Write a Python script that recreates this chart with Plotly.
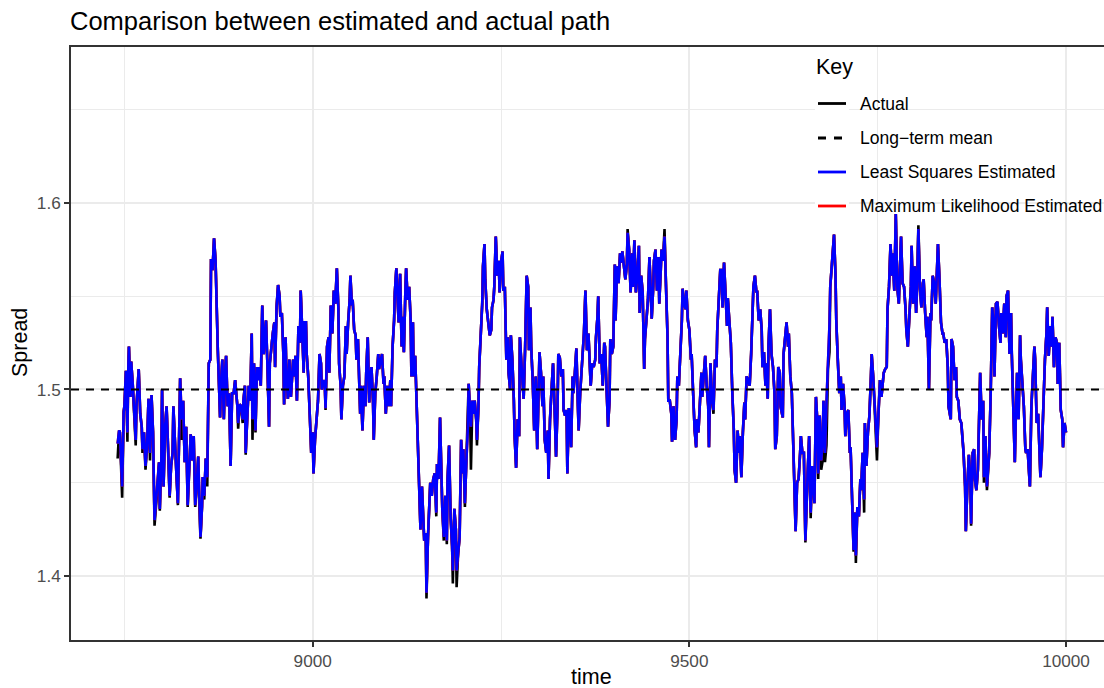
import plotly.graph_objects as go

# ---- data -----------------------------------------------------------------
time = [
    8741, 8743, 8744, 8747, 8749, 8750, 8752, 8754, 8755, 8756,
    8758, 8759, 8761, 8763, 8765, 8766, 8769, 8771, 8773, 8774,
    8776, 8778, 8780, 8782, 8784, 8786, 8788, 8790, 8792, 8794,
    8796, 8797, 8799, 8800, 8802, 8804, 8806, 8808, 8810, 8812,
    8814, 8815, 8817, 8819, 8821, 8823, 8824, 8826, 8828, 8830,
    8832, 8834, 8836, 8838, 8840, 8842, 8844, 8846, 8848, 8849,
    8851, 8853, 8854, 8856, 8858, 8860, 8862, 8864, 8865, 8867,
    8869, 8871, 8872, 8874, 8877, 8878, 8880, 8882, 8884, 8885,
    8887, 8889,
    8891, 8893, 8895, 8897, 8900, 8901, 8903, 8905, 8907, 8908,
    8910, 8911, 8913, 8915, 8917, 8919, 8920, 8922, 8924, 8926,
    8927, 8929, 8931, 8933, 8935, 8937, 8938, 8940, 8942, 8943,
    8945, 8947, 8949, 8950, 8952, 8954, 8956, 8957, 8959, 8961,
    8962, 8964, 8965, 8967, 8969, 8971, 8973, 8974, 8976, 8977,
    8979, 8981, 8983, 8984, 8986, 8988, 8989, 8991, 8992, 8994,
    8996, 8998, 9000, 9001, 9003, 9005, 9007, 9009, 9011, 9012,
    9014, 9016, 9017, 9019, 9021, 9022, 9024, 9026, 9028, 9030,
    9032, 9034, 9035, 9037, 9038, 9040, 9042, 9044, 9045, 9047,
    9049,
    9050, 9052, 9053, 9055, 9057, 9058, 9060, 9062, 9063, 9064,
    9066, 9068, 9070, 9071, 9073, 9075, 9076, 9078, 9080, 9081,
    9083, 9085, 9087, 9088, 9090, 9092, 9094, 9095, 9097, 9099,
    9101, 9103, 9104, 9106, 9108, 9109, 9111, 9113, 9114, 9116,
    9118, 9119, 9121, 9123, 9124, 9126, 9128, 9130, 9131, 9133,
    9134, 9136, 9138, 9140, 9141, 9143, 9145, 9146, 9148, 9150,
    9151, 9153, 9155, 9156, 9158, 9160, 9162, 9164, 9165, 9167,
    9169, 9171, 9172, 9174, 9176, 9178, 9179, 9181, 9183, 9185,
    9186, 9188, 9190, 9191, 9193, 9195, 9197, 9199, 9200, 9202,
    9204, 9206, 9207,
    9209, 9210, 9212, 9214, 9215, 9217, 9218, 9220, 9221, 9223,
    9225, 9226, 9228, 9229, 9231, 9233, 9235, 9237, 9238, 9240,
    9241, 9243, 9245, 9247, 9248, 9250, 9252, 9253, 9255, 9257,
    9259, 9260, 9262, 9263, 9265, 9267, 9268, 9270, 9272, 9274,
    9275, 9277, 9279, 9280, 9282, 9284, 9286, 9287, 9289, 9290,
    9292, 9294, 9296, 9298, 9299, 9301, 9303, 9305, 9306, 9308,
    9310, 9312, 9313, 9315, 9317, 9319, 9321, 9323, 9325, 9326,
    9328, 9330, 9332, 9333, 9335, 9337, 9338, 9340, 9341, 9343,
    9345, 9346, 9348, 9350, 9352, 9353, 9355, 9357, 9359, 9360,
    9362, 9364, 9366, 9367,
    9369, 9371, 9373, 9375, 9376, 9378, 9379, 9381, 9383, 9385,
    9387, 9388, 9390, 9392, 9394, 9395, 9397, 9399, 9401, 9402,
    9404, 9406, 9408, 9410, 9411, 9413, 9415, 9417, 9418, 9420,
    9422, 9424, 9425, 9427, 9429, 9431, 9433, 9434, 9436, 9438,
    9440, 9441, 9443, 9445, 9447, 9448, 9450, 9452, 9453, 9455,
    9457, 9459, 9460, 9462, 9463, 9465, 9467, 9469, 9471, 9472,
    9474, 9476, 9477, 9479, 9481, 9483, 9484, 9486, 9488, 9490,
    9491, 9493, 9495, 9496, 9498, 9500, 9502, 9503, 9505, 9507,
    9509, 9510, 9512, 9514, 9516, 9517, 9519, 9521, 9523, 9525,
    9526,
    9528, 9530, 9532, 9534, 9536, 9537, 9539, 9541, 9543, 9544,
    9546, 9548, 9550, 9551, 9553, 9555, 9557, 9559, 9560, 9562,
    9564, 9566, 9567, 9569, 9571, 9573, 9574, 9576, 9578, 9580,
    9582, 9583, 9585, 9587, 9589, 9590, 9592, 9594, 9596, 9597,
    9599, 9601, 9602, 9604, 9605, 9607, 9609, 9611, 9613, 9614,
    9616, 9618, 9620, 9621, 9624, 9625, 9627, 9629, 9631, 9632,
    9634, 9636, 9638, 9639, 9641, 9643, 9645, 9647, 9648, 9650,
    9652, 9654, 9655, 9657, 9659, 9661, 9663, 9664, 9666, 9668,
    9670, 9671, 9673, 9675, 9677, 9678, 9680, 9682, 9684, 9686,
    9687, 9689, 9692, 9694, 9695, 9697, 9699, 9701, 9702, 9704,
    9706, 9707, 9709, 9711, 9713, 9714, 9716, 9718, 9720, 9721,
    9723, 9725, 9727, 9728, 9730, 9732, 9733, 9735, 9737, 9739,
    9741, 9742, 9744, 9746, 9748, 9749, 9751, 9753, 9755, 9756,
    9758, 9760, 9762, 9763, 9765, 9767, 9769, 9770, 9772, 9774,
    9776, 9778, 9779, 9781, 9783, 9785, 9787, 9788, 9790, 9792,
    9794, 9795, 9797, 9799, 9801, 9802, 9804, 9806, 9808, 9810,
    9811, 9813, 9815, 9816, 9818, 9820, 9821, 9823, 9825, 9827,
    9829, 9830, 9832, 9834, 9836, 9837, 9839, 9841, 9843, 9844,
    9847, 9848, 9850, 9852, 9854, 9855, 9857, 9859, 9861, 9863,
    9864, 9866, 9867, 9869, 9871, 9873, 9874, 9876, 9878, 9879,
    9881, 9883, 9885, 9886, 9888, 9890, 9891, 9893, 9895, 9897,
    9898, 9900, 9902, 9904, 9905, 9907, 9909, 9911, 9913, 9914,
    9916, 9918, 9920, 9921, 9923, 9925, 9927, 9928, 9930, 9932,
    9933, 9935, 9937, 9939, 9940, 9942, 9944, 9946, 9947, 9949,
    9951, 9952, 9954, 9956, 9958, 9959, 9961, 9963, 9965, 9966,
    9968, 9970, 9972, 9974, 9975, 9977, 9979, 9981, 9982, 9984,
    9986, 9988, 9989, 9991, 9993, 9995, 9996, 9998, 10000,
]

actual = [
    1.463, 1.478, 1.477, 1.442, 1.488, 1.491, 1.510, 1.472, 1.509, 1.523,
    1.496, 1.515, 1.503, 1.486, 1.470, 1.491, 1.511, 1.487, 1.480, 1.466,
    1.477, 1.457, 1.469, 1.495, 1.462, 1.497, 1.477, 1.427, 1.441, 1.448,
    1.461, 1.435, 1.462, 1.500, 1.448, 1.480, 1.491, 1.469, 1.442, 1.459,
    1.466, 1.491, 1.469, 1.455, 1.438, 1.480, 1.506, 1.473, 1.494, 1.461,
    1.480, 1.437, 1.461, 1.476, 1.462, 1.475, 1.437, 1.448, 1.464, 1.443,
    1.420, 1.437, 1.453, 1.441, 1.463, 1.448, 1.514, 1.516, 1.570, 1.564,
    1.581, 1.569, 1.548, 1.521, 1.485, 1.502, 1.516, 1.484, 1.512, 1.518,
    1.491, 1.498,
    1.459, 1.498, 1.498, 1.505, 1.491, 1.479, 1.492, 1.491, 1.482, 1.494,
    1.502, 1.465, 1.484, 1.502, 1.494, 1.530, 1.473, 1.514, 1.477, 1.512,
    1.505, 1.512, 1.502, 1.545, 1.519, 1.537, 1.537, 1.511, 1.480, 1.514,
    1.523, 1.530, 1.536, 1.512, 1.544, 1.556, 1.550, 1.539, 1.541, 1.519,
    1.492, 1.528, 1.509, 1.495, 1.516, 1.496, 1.509, 1.516, 1.507, 1.518,
    1.494, 1.534, 1.525, 1.553, 1.532, 1.509, 1.536, 1.536, 1.519, 1.507,
    1.487, 1.466, 1.477, 1.455, 1.473, 1.484, 1.494, 1.519, 1.514, 1.500,
    1.505, 1.503, 1.489, 1.523, 1.528, 1.509, 1.545, 1.530, 1.553, 1.546,
    1.565, 1.544, 1.514, 1.502, 1.484, 1.502, 1.507, 1.534, 1.519, 1.536,
    1.548,
    1.561, 1.545, 1.548, 1.532, 1.529, 1.516, 1.527, 1.505, 1.487, 1.502,
    1.478, 1.502, 1.491, 1.509, 1.528, 1.493, 1.503, 1.512, 1.494, 1.473,
    1.498, 1.507, 1.519, 1.511, 1.516, 1.519, 1.503, 1.507, 1.487, 1.502,
    1.491, 1.505, 1.491, 1.523, 1.537, 1.552, 1.565, 1.539, 1.536, 1.562,
    1.523, 1.539, 1.520, 1.553, 1.565, 1.548, 1.555, 1.537, 1.507, 1.536,
    1.507, 1.518, 1.494, 1.466, 1.448, 1.425, 1.448, 1.437, 1.419, 1.423,
    1.388, 1.421, 1.437, 1.450, 1.443, 1.452, 1.455, 1.432, 1.460, 1.452,
    1.485, 1.443, 1.436, 1.419, 1.443, 1.417, 1.452, 1.470, 1.432, 1.416,
    1.396, 1.436, 1.425, 1.394, 1.412, 1.421, 1.473, 1.455, 1.468, 1.437,
    1.462, 1.480, 1.503,
    1.484, 1.457, 1.494, 1.487, 1.494, 1.484, 1.470, 1.491, 1.512, 1.530,
    1.546, 1.566, 1.578, 1.559, 1.543, 1.536, 1.529, 1.532, 1.544, 1.548,
    1.555, 1.582, 1.561, 1.569, 1.552, 1.568, 1.574, 1.553, 1.555, 1.516,
    1.528, 1.509, 1.500, 1.529, 1.516, 1.494, 1.475, 1.458, 1.484, 1.475,
    1.528, 1.514, 1.498, 1.495, 1.523, 1.561, 1.555, 1.521, 1.544, 1.523,
    1.505, 1.478, 1.507, 1.468, 1.484, 1.520, 1.509, 1.491, 1.507, 1.473,
    1.466, 1.478, 1.452, 1.484, 1.500, 1.514, 1.491, 1.464, 1.491, 1.519,
    1.517, 1.507, 1.511, 1.489, 1.486, 1.489, 1.455, 1.490, 1.487, 1.469,
    1.507, 1.498, 1.509, 1.522, 1.491, 1.478, 1.498, 1.509, 1.523, 1.530,
    1.553, 1.521, 1.530, 1.523,
    1.502, 1.514, 1.512, 1.516, 1.528, 1.539, 1.550, 1.514, 1.519, 1.502,
    1.525, 1.523, 1.498, 1.480, 1.494, 1.527, 1.519, 1.523, 1.567, 1.537,
    1.566, 1.557, 1.573, 1.568, 1.574, 1.566, 1.559, 1.567, 1.586, 1.575,
    1.552, 1.573, 1.555, 1.580, 1.552, 1.562, 1.577, 1.541, 1.561, 1.552,
    1.511, 1.527, 1.537, 1.548, 1.571, 1.555, 1.538, 1.555, 1.569, 1.575,
    1.553, 1.571, 1.546, 1.564, 1.575, 1.569, 1.586, 1.555, 1.528, 1.494,
    1.494, 1.487, 1.472, 1.491, 1.473, 1.484, 1.507, 1.502, 1.519, 1.537,
    1.554, 1.546, 1.543, 1.553, 1.537, 1.532, 1.516, 1.519, 1.498, 1.478,
    1.469, 1.484, 1.477, 1.491, 1.509, 1.496, 1.505, 1.518, 1.502, 1.491,
    1.469,
    1.514, 1.494, 1.487, 1.516, 1.512, 1.532, 1.546, 1.564, 1.564, 1.544,
    1.568, 1.546, 1.534, 1.549, 1.536, 1.525, 1.498, 1.478, 1.457, 1.450,
    1.478, 1.466, 1.475, 1.453, 1.477, 1.493, 1.484, 1.507, 1.505, 1.502,
    1.519, 1.537, 1.555, 1.561, 1.552, 1.553, 1.537, 1.543, 1.532, 1.512,
    1.520, 1.502, 1.514, 1.495, 1.523, 1.543, 1.519, 1.512, 1.498, 1.468,
    1.475, 1.512, 1.509, 1.491, 1.485, 1.519, 1.527, 1.536, 1.523, 1.530,
    1.507, 1.498, 1.469, 1.450, 1.424, 1.450, 1.452, 1.466, 1.475, 1.466,
    1.466, 1.418, 1.434, 1.455, 1.475, 1.431, 1.459, 1.450, 1.439, 1.496,
    1.482, 1.452, 1.486, 1.457, 1.462, 1.494, 1.461, 1.470, 1.511, 1.520,
    1.555, 1.566, 1.583, 1.561, 1.537, 1.516, 1.498, 1.507, 1.489, 1.503,
    1.491, 1.475, 1.487, 1.489, 1.466, 1.469, 1.441, 1.413, 1.434, 1.407,
    1.437, 1.432, 1.452, 1.446, 1.466, 1.434, 1.482, 1.459, 1.477, 1.486,
    1.507, 1.519, 1.507, 1.487, 1.477, 1.462, 1.487, 1.505, 1.496, 1.502,
    1.509, 1.511, 1.512, 1.543, 1.555, 1.578, 1.561, 1.573, 1.553, 1.594,
    1.555, 1.546, 1.562, 1.582, 1.557, 1.555, 1.543, 1.532, 1.523, 1.543,
    1.555, 1.577, 1.546, 1.566, 1.541, 1.552, 1.588, 1.555, 1.544, 1.557,
    1.559, 1.541, 1.528, 1.539, 1.500, 1.541, 1.537, 1.561, 1.557, 1.546,
    1.566, 1.578, 1.559, 1.536, 1.530, 1.530, 1.525, 1.527, 1.512, 1.491,
    1.484, 1.527, 1.523, 1.505, 1.512, 1.496, 1.494, 1.484, 1.482, 1.473,
    1.466, 1.448, 1.424, 1.448, 1.465, 1.452, 1.427, 1.466, 1.468, 1.452,
    1.446, 1.457, 1.484, 1.509, 1.484, 1.494, 1.450, 1.475, 1.446, 1.457,
    1.466, 1.498, 1.544, 1.534, 1.507, 1.546, 1.547, 1.534, 1.525, 1.541,
    1.530, 1.546, 1.528, 1.550, 1.553, 1.519, 1.541, 1.519, 1.484, 1.461,
    1.480, 1.509, 1.484, 1.529, 1.516, 1.502, 1.491, 1.468, 1.466, 1.468,
    1.455, 1.448, 1.491, 1.511, 1.523, 1.516, 1.482, 1.487, 1.466, 1.453,
    1.468, 1.494, 1.516, 1.530, 1.544, 1.518, 1.534, 1.523, 1.539, 1.512,
    1.528, 1.525, 1.503, 1.525, 1.489, 1.484, 1.469, 1.482, 1.477,
]

least_squares = [
    1.471, 1.478, 1.477, 1.448, 1.488, 1.491, 1.510, 1.477, 1.509, 1.523,
    1.496, 1.515, 1.503, 1.486, 1.473, 1.491, 1.511, 1.487, 1.480, 1.468,
    1.477, 1.459, 1.469, 1.495, 1.466, 1.497, 1.477, 1.430, 1.441, 1.448,
    1.461, 1.436, 1.462, 1.500, 1.448, 1.480, 1.491, 1.469, 1.443, 1.459,
    1.466, 1.491, 1.469, 1.455, 1.439, 1.480, 1.506, 1.484, 1.494, 1.461,
    1.480, 1.438, 1.461, 1.476, 1.462, 1.475, 1.438, 1.448, 1.464, 1.443,
    1.421, 1.437, 1.453, 1.443, 1.463, 1.453, 1.514, 1.516, 1.570, 1.564,
    1.581, 1.569, 1.548, 1.521, 1.485, 1.502, 1.516, 1.484, 1.512, 1.518,
    1.491, 1.498,
    1.459, 1.498, 1.498, 1.505, 1.491, 1.482, 1.492, 1.491, 1.484, 1.494,
    1.502, 1.466, 1.484, 1.502, 1.494, 1.530, 1.484, 1.514, 1.478, 1.512,
    1.505, 1.512, 1.502, 1.545, 1.519, 1.537, 1.537, 1.511, 1.480, 1.514,
    1.523, 1.530, 1.536, 1.512, 1.544, 1.556, 1.550, 1.539, 1.541, 1.519,
    1.492, 1.528, 1.509, 1.495, 1.516, 1.496, 1.509, 1.516, 1.507, 1.518,
    1.494, 1.534, 1.525, 1.553, 1.532, 1.509, 1.536, 1.536, 1.519, 1.507,
    1.487, 1.466, 1.477, 1.455, 1.473, 1.484, 1.494, 1.519, 1.514, 1.500,
    1.505, 1.503, 1.490, 1.523, 1.528, 1.509, 1.545, 1.530, 1.553, 1.546,
    1.565, 1.544, 1.514, 1.502, 1.484, 1.502, 1.507, 1.534, 1.519, 1.536,
    1.548,
    1.561, 1.545, 1.548, 1.532, 1.529, 1.516, 1.527, 1.505, 1.487, 1.502,
    1.478, 1.502, 1.491, 1.509, 1.528, 1.493, 1.503, 1.512, 1.494, 1.473,
    1.498, 1.507, 1.519, 1.511, 1.516, 1.519, 1.503, 1.507, 1.487, 1.502,
    1.491, 1.505, 1.491, 1.523, 1.537, 1.552, 1.565, 1.539, 1.536, 1.562,
    1.523, 1.539, 1.520, 1.553, 1.565, 1.548, 1.555, 1.537, 1.507, 1.536,
    1.507, 1.518, 1.494, 1.466, 1.448, 1.425, 1.448, 1.437, 1.419, 1.423,
    1.391, 1.421, 1.437, 1.450, 1.443, 1.452, 1.455, 1.434, 1.460, 1.452,
    1.485, 1.443, 1.436, 1.421, 1.443, 1.419, 1.452, 1.470, 1.432, 1.416,
    1.403, 1.436, 1.425, 1.403, 1.412, 1.421, 1.473, 1.455, 1.468, 1.439,
    1.462, 1.480, 1.503,
    1.484, 1.480, 1.494, 1.487, 1.494, 1.484, 1.473, 1.491, 1.512, 1.530,
    1.546, 1.566, 1.578, 1.559, 1.543, 1.536, 1.529, 1.532, 1.544, 1.548,
    1.555, 1.582, 1.561, 1.569, 1.552, 1.568, 1.574, 1.553, 1.555, 1.516,
    1.528, 1.509, 1.500, 1.529, 1.516, 1.494, 1.475, 1.458, 1.484, 1.475,
    1.528, 1.514, 1.498, 1.495, 1.523, 1.561, 1.555, 1.521, 1.544, 1.523,
    1.505, 1.478, 1.507, 1.468, 1.484, 1.520, 1.509, 1.491, 1.507, 1.473,
    1.466, 1.478, 1.452, 1.484, 1.500, 1.514, 1.491, 1.464, 1.491, 1.519,
    1.517, 1.507, 1.511, 1.489, 1.486, 1.489, 1.455, 1.490, 1.487, 1.469,
    1.507, 1.498, 1.509, 1.522, 1.491, 1.478, 1.498, 1.509, 1.523, 1.530,
    1.553, 1.521, 1.530, 1.523,
    1.502, 1.514, 1.512, 1.516, 1.528, 1.539, 1.550, 1.514, 1.519, 1.502,
    1.525, 1.523, 1.498, 1.480, 1.494, 1.527, 1.519, 1.523, 1.567, 1.537,
    1.566, 1.557, 1.573, 1.568, 1.574, 1.566, 1.559, 1.567, 1.584, 1.575,
    1.552, 1.573, 1.555, 1.580, 1.552, 1.562, 1.577, 1.541, 1.561, 1.552,
    1.511, 1.527, 1.537, 1.548, 1.571, 1.555, 1.538, 1.555, 1.569, 1.575,
    1.553, 1.571, 1.546, 1.564, 1.575, 1.569, 1.582, 1.555, 1.528, 1.494,
    1.494, 1.487, 1.472, 1.491, 1.473, 1.484, 1.507, 1.502, 1.519, 1.537,
    1.554, 1.546, 1.543, 1.553, 1.537, 1.532, 1.516, 1.519, 1.498, 1.478,
    1.469, 1.484, 1.477, 1.491, 1.509, 1.496, 1.505, 1.518, 1.502, 1.491,
    1.469,
    1.514, 1.494, 1.489, 1.516, 1.512, 1.532, 1.546, 1.564, 1.564, 1.544,
    1.568, 1.546, 1.534, 1.549, 1.536, 1.525, 1.498, 1.478, 1.457, 1.450,
    1.478, 1.466, 1.475, 1.453, 1.477, 1.493, 1.484, 1.507, 1.505, 1.502,
    1.519, 1.537, 1.555, 1.561, 1.552, 1.553, 1.537, 1.543, 1.532, 1.512,
    1.520, 1.502, 1.514, 1.495, 1.523, 1.543, 1.519, 1.512, 1.498, 1.468,
    1.475, 1.512, 1.509, 1.491, 1.485, 1.519, 1.527, 1.536, 1.523, 1.530,
    1.507, 1.498, 1.469, 1.450, 1.424, 1.450, 1.452, 1.466, 1.475, 1.466,
    1.466, 1.419, 1.434, 1.455, 1.475, 1.434, 1.459, 1.450, 1.439, 1.496,
    1.482, 1.455, 1.486, 1.462, 1.473, 1.494, 1.466, 1.493, 1.511, 1.535,
    1.555, 1.566, 1.583, 1.561, 1.537, 1.516, 1.498, 1.507, 1.489, 1.503,
    1.491, 1.475, 1.487, 1.489, 1.466, 1.469, 1.441, 1.414, 1.434, 1.411,
    1.437, 1.432, 1.452, 1.446, 1.466, 1.441, 1.482, 1.459, 1.477, 1.486,
    1.507, 1.519, 1.507, 1.487, 1.477, 1.469, 1.487, 1.505, 1.496, 1.502,
    1.509, 1.511, 1.512, 1.543, 1.555, 1.578, 1.561, 1.573, 1.553, 1.594,
    1.555, 1.546, 1.562, 1.582, 1.557, 1.555, 1.543, 1.532, 1.523, 1.543,
    1.555, 1.577, 1.546, 1.566, 1.541, 1.552, 1.586, 1.555, 1.544, 1.557,
    1.559, 1.541, 1.528, 1.539, 1.500, 1.541, 1.537, 1.561, 1.557, 1.546,
    1.566, 1.578, 1.559, 1.536, 1.530, 1.530, 1.525, 1.527, 1.512, 1.491,
    1.484, 1.527, 1.523, 1.505, 1.512, 1.496, 1.494, 1.484, 1.482, 1.473,
    1.466, 1.448, 1.424, 1.448, 1.465, 1.452, 1.428, 1.466, 1.468, 1.452,
    1.446, 1.457, 1.484, 1.509, 1.484, 1.494, 1.453, 1.475, 1.448, 1.457,
    1.466, 1.498, 1.544, 1.534, 1.507, 1.546, 1.547, 1.534, 1.525, 1.541,
    1.530, 1.546, 1.528, 1.550, 1.553, 1.519, 1.541, 1.519, 1.484, 1.461,
    1.480, 1.509, 1.484, 1.529, 1.516, 1.502, 1.491, 1.468, 1.466, 1.468,
    1.455, 1.448, 1.491, 1.511, 1.523, 1.516, 1.482, 1.487, 1.466, 1.453,
    1.468, 1.494, 1.516, 1.530, 1.544, 1.518, 1.534, 1.523, 1.539, 1.512,
    1.528, 1.525, 1.503, 1.525, 1.489, 1.484, 1.469, 1.482, 1.477,
]

# the ML fit tracks the least-squares fit almost exactly
max_likelihood = list(least_squares)

long_term_mean = 1.5

x_ticks = [9000, 9500, 10000]
x_tick_labels = ["9000", "9500", "10000"]
x_minor = [8750, 9250, 9750]
y_ticks = [1.4, 1.5, 1.6]
y_tick_labels = ["1.4", "1.5", "1.6"]
y_minor = [1.45, 1.55, 1.65]

legend_labels = ["Actual", "Long\u2212term mean", "Least Squares Estimated",
                 "Maximum Likelihood Estimated"]

assert len(time) == len(actual) == len(least_squares)

# ---- figure geometry (pixels) ---------------------------------------------
W, H = 1104, 688
ML, MT, MB, MR = 71, 47, 48, 0
PW, PH = W - ML - MR, H - MT - MB

FONT = "Liberation Sans, Arial, Helvetica, sans-serif"
GRID = "#EBEBEB"
AXIS = "#333333"
LINE_W = 2.6


def px(xp):
    return (xp - ML) / PW


def py(yp):
    return (H - MB - yp) / PH


fig = go.Figure()

fig.add_trace(go.Scatter(x=time, y=actual, mode="lines",
                         line=dict(color="black", width=LINE_W),
                         name=legend_labels[0], showlegend=False,
                         hoverinfo="skip"))
fig.add_trace(go.Scatter(x=time, y=max_likelihood, mode="lines",
                         line=dict(color="#FF0000", width=LINE_W),
                         name=legend_labels[3], showlegend=False,
                         hoverinfo="skip"))
fig.add_trace(go.Scatter(x=time, y=least_squares, mode="lines",
                         line=dict(color="#0000FF", width=LINE_W),
                         name=legend_labels[2], showlegend=False,
                         hoverinfo="skip"))

shapes = [
    dict(type="line", xref="paper", yref="y", x0=0, x1=1,
         y0=long_term_mean, y1=long_term_mean, layer="above",
         line=dict(color="black", width=2, dash="8px,7px")),
]

annotations = []

# legend drawn inside the panel: white key boxes, key glyphs and labels
key_rows = [103.5, 138, 172, 206]
key_styles = [("black", "solid"), ("black", "8px,8px"),
              ("#0000FF", "solid"), ("#FF0000", "solid")]
for yc, (col, dash), label in zip(key_rows, key_styles, legend_labels):
    shapes.append(dict(type="rect", xref="paper", yref="paper",
                       x0=px(815), x1=px(849), y0=py(yc + 17), y1=py(yc - 17),
                       fillcolor="white", line=dict(width=0), layer="above"))
    shapes.append(dict(type="line", xref="paper", yref="paper",
                       x0=px(818), x1=px(846), y0=py(yc), y1=py(yc),
                       line=dict(color=col, width=2.8, dash=dash),
                       layer="above"))
    annotations.append(dict(text=label, xref="paper", yref="paper",
                            x=px(858), y=py(yc), xanchor="left",
                            yanchor="middle", showarrow=False,
                            font=dict(family=FONT, size=17.5, color="black")))

annotations.append(dict(text="Key", xref="paper", yref="paper",
                        x=px(814), y=py(67.5), xanchor="left",
                        yanchor="middle", showarrow=False,
                        font=dict(family=FONT, size=21.5, color="black")))

# plot title and axis titles
annotations.append(dict(text="Comparison between estimated and actual path",
                        xref="paper", yref="paper", x=px(68), y=py(21),
                        xanchor="left", yanchor="middle", showarrow=False,
                        font=dict(family=FONT, size=25.5, color="black")))
annotations.append(dict(text="time", xref="paper", yref="paper",
                        x=px(591), y=py(676.5), xanchor="center",
                        yanchor="middle", showarrow=False,
                        font=dict(family=FONT, size=21.5, color="black")))
annotations.append(dict(text="Spread", xref="paper", yref="paper",
                        x=px(20), y=py(343), xanchor="center",
                        yanchor="middle", textangle=-90, showarrow=False,
                        font=dict(family=FONT, size=21.5, color="black")))

fig.update_layout(
    width=W, height=H,
    margin=dict(l=ML, r=MR, t=MT, b=MB, pad=0),
    paper_bgcolor="white", plot_bgcolor="white",
    showlegend=False,
    shapes=shapes, annotations=annotations,
    font=dict(family=FONT),
)

fig.update_xaxes(
    range=[8679.1, 10050.4], autorange=False,
    tickmode="array", tickvals=x_ticks, ticktext=x_tick_labels,
    ticks="outside", ticklen=5, tickwidth=1.6, tickcolor=AXIS,
    tickfont=dict(family=FONT, size=17.2, color="#4D4D4D"),
    showgrid=True, gridcolor=GRID, gridwidth=2,
    minor=dict(tickmode="array", tickvals=x_minor, showgrid=True,
               gridcolor=GRID, gridwidth=1.2, ticks=""),
    showline=True, linecolor=AXIS, linewidth=1.6, mirror=True,
    zeroline=False,
)
fig.update_yaxes(
    range=[1.3657, 1.6836], autorange=False,
    tickmode="array", tickvals=y_ticks, ticktext=y_tick_labels,
    ticks="outside", ticklen=5, tickwidth=1.6, tickcolor=AXIS,
    tickfont=dict(family=FONT, size=17.2, color="#4D4D4D"),
    showgrid=True, gridcolor=GRID, gridwidth=2,
    minor=dict(tickmode="array", tickvals=y_minor, showgrid=True,
               gridcolor=GRID, gridwidth=1.2, ticks=""),
    showline=True, linecolor=AXIS, linewidth=1.6, mirror=False,
    zeroline=False,
)

fig.write_html("out.html")
